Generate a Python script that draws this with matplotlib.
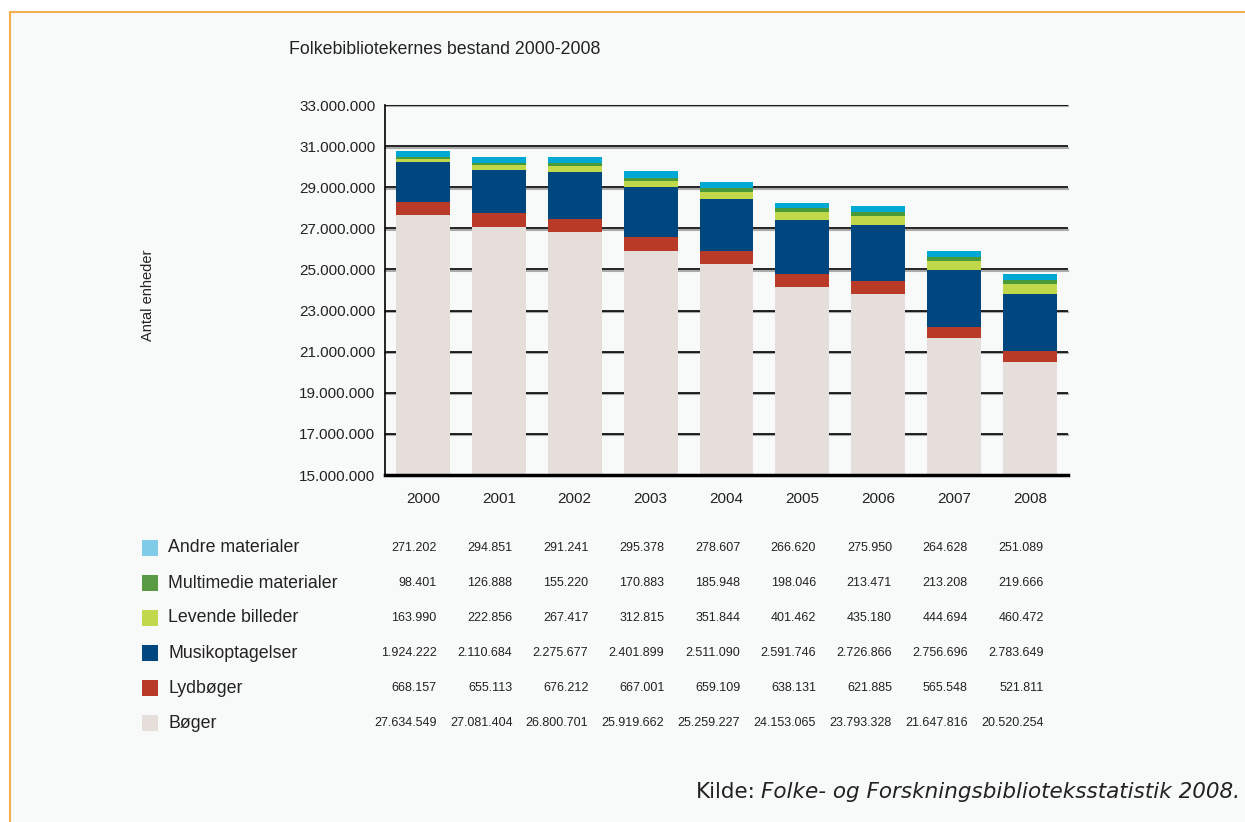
import matplotlib.pyplot as plt
import matplotlib.transforms as mtransforms
from matplotlib.patches import Rectangle
import numpy as np

years = ["2000", "2001", "2002", "2003", "2004", "2005", "2006", "2007", "2008"]

boger = [27634549, 27081404, 26800701, 25919662, 25259227, 24153065, 23793328, 21647816, 20520254]
lydboger = [668157, 655113, 676212, 667001, 659109, 638131, 621885, 565548, 521811]
musik = [1924222, 2110684, 2275677, 2401899, 2511090, 2591746, 2726866, 2756696, 2783649]
levende = [163990, 222856, 267417, 312815, 351844, 401462, 435180, 444694, 460472]
multimedie = [98401, 126888, 155220, 170883, 185948, 198046, 213471, 213208, 219666]
andre = [271202, 294851, 291241, 295378, 278607, 266620, 275950, 264628, 251089]

# stacking order, bottom to top
series = [
    ("Bøger", boger, "#e5dedb", "#e5dedb"),
    ("Lydbøger", lydboger, "#b93a27", "#b93a27"),
    ("Musikoptagelser", musik, "#00477f", "#00477f"),
    ("Levende billeder", levende, "#c0d84a", "#c0d84a"),
    ("Multimedie materialer", multimedie, "#4a9a3a", "#5a9a44"),
    ("Andre materialer", andre, "#00a8d4", "#7fcbe8"),
]

W, H = 1245, 822
FONT = ["Liberation Sans Narrow", "Liberation Sans", "DejaVu Sans"]
plt.rcParams["font.family"] = FONT

fig = plt.figure(figsize=(W / 100, H / 100), dpi=100)
fig.patch.set_facecolor("white")

# light panel with orange border
fig.patches.append(Rectangle((10 / W, -0.1), 1.2, (H - 12) / H + 0.1,
                             transform=fig.transFigure, facecolor="#f8f9f9",
                             edgecolor="#f0b050", linewidth=1.5, zorder=-10))

ax = fig.add_axes([385 / W, (H - 475) / H, (1068 - 385) / W, (475 - 105) / H])
ax.set_facecolor("none")
ax.set_zorder(1)

x = np.arange(len(years))
bottom = np.zeros(len(years))
for name, vals, col, _ in series:
    ax.bar(x, vals, bottom=bottom, width=0.71, color=col, zorder=3)
    bottom += np.array(vals)

ax.set_xlim(-0.5, 8.5)
ax.set_ylim(15_000_000, 33_000_000)
yt = np.arange(15_000_000, 33_000_001, 2_000_000)
ax.set_yticks(yt)
ax.set_yticklabels([f"{v:,}".replace(",", ".") for v in yt], fontsize=11, color="#222222")
ax.set_xticks(x)
ax.set_xticklabels(years, fontsize=11, color="#222222")
ax.tick_params(length=0)
ax.tick_params(axis="y", pad=7)
ax.tick_params(axis="x", pad=12)

shadow = ax.get_yaxis_transform() + mtransforms.ScaledTranslation(0, -1.5 / 100, fig.dpi_scale_trans)
for v in yt:
    ax.plot([0, 1], [v, v], color="#aaaaaa", lw=1.5, zorder=1, transform=shadow, clip_on=False)
    ax.axhline(v, color="black", lw=1.2, zorder=2)
for s in ["top", "right", "bottom"]:
    ax.spines[s].set_visible(False)
ax.spines["left"].set_linewidth(1.2)
ax.axhline(15_000_000, color="black", lw=2.5, zorder=4, clip_on=False)

fig.text(289 / W, 1 - 50 / H, "Folkebibliotekernes bestand 2000-2008", fontsize=12.8,
         color="#222222", ha="left", va="center")
fig.text(148 / W, 1 - 295 / H, "Antal enheder", rotation=90, fontsize=10.5,
         color="#222222", ha="center", va="center")

# data table
row_y = [723, 688, 653, 618, 583, 548]
trans = mtransforms.blended_transform_factory(ax.transData, fig.transFigure)
for (name, vals, _, swatch), ry in zip(series, row_y):
    yf = 1 - ry / H
    fig.patches.append(Rectangle((142 / W, yf - 8 / H), 16 / W, 16 / H,
                                 transform=fig.transFigure, facecolor=swatch,
                                 edgecolor="none", zorder=2))
    fig.text(168 / W, yf, name, fontsize=12.8, color="#222222", ha="left", va="center")
    for i, v in enumerate(vals):
        fig.text(x[i] + 0.18, yf, f"{v:,}".replace(",", "."), transform=trans,
                 fontsize=9, color="#222222", ha="right", va="center")

# source line
src = fig.text(1240 / W, 1 - 792 / H, "Folke- og Forskningsbiblioteksstatistik 2008.",
               fontsize=15.5, style="italic", family="DejaVu Sans", color="#222222",
               ha="right", va="center")
fig.canvas.draw()
bb = src.get_window_extent()
fig.text(bb.x0 / W - 5 / W, 1 - 792 / H, "Kilde:", fontsize=15.5, family="DejaVu Sans",
         color="#222222", ha="right", va="center")

fig.savefig("out.png", dpi=100, facecolor="white")
